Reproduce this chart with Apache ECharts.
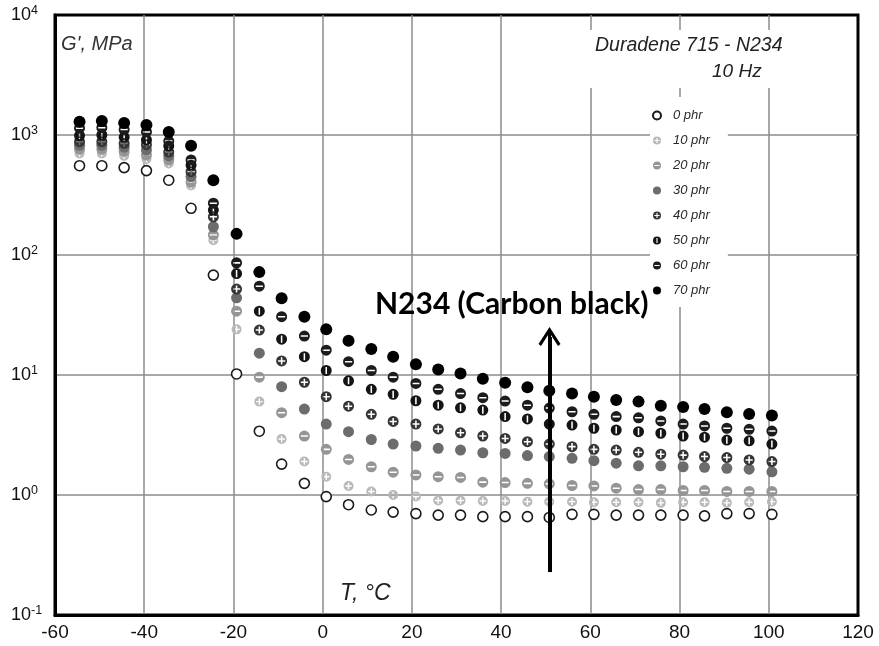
<!DOCTYPE html>
<html>
<head>
<meta charset="utf-8">
<script src="https://cdn.jsdelivr.net/npm/echarts@6/dist/echarts.min.js"></script>
<style>
  html, body { margin: 0; padding: 0; background: #fff; }
  #chart { width: 879px; height: 646px; }
</style>
</head>
<body>
<div id="chart"></div>
<script>
// Storage modulus G' (MPa) of Duradene 715 filled with N234 carbon black, 10 Hz
const temperatures = [-54.5, -49.5, -44.5, -39.5, -34.5, -29.5, -24.5, -19.3, -14.2, -9.2, -4.1, 0.8,
  5.8, 10.9, 15.8, 20.9, 25.9, 30.9, 35.9, 40.9, 45.9, 50.8, 55.9, 60.8, 65.8, 70.8, 75.8, 80.8,
  85.6, 90.6, 95.6, 100.7];

const seriesNames = ['0 phr', '10 phr', '20 phr', '30 phr', '40 phr', '50 phr', '60 phr', '70 phr'];

const g0phr = [555, 555, 535, 505, 420, 245, 68, 10.2, 3.4, 1.81, 1.25, 0.97, 0.83, 0.75, 0.72, 0.70,
  0.68, 0.68, 0.66, 0.66, 0.66, 0.65, 0.69, 0.69, 0.68, 0.68, 0.68, 0.68, 0.67, 0.70, 0.70, 0.69];
const g10phr = [700, 700, 670, 630, 580, 380, 133, 24, 6.0, 2.93, 1.9, 1.42, 1.19, 1.07, 1.0, 0.97,
  0.90, 0.90, 0.89, 0.89, 0.88, 0.88, 0.88, 0.87, 0.87, 0.87, 0.86, 0.87, 0.87, 0.86, 0.87, 0.88];
const g20phr = [760, 760, 730, 680, 620, 405, 147, 34, 9.6, 4.85, 3.1, 2.4, 1.98, 1.72, 1.55, 1.47,
  1.42, 1.40, 1.28, 1.27, 1.25, 1.24, 1.20, 1.19, 1.14, 1.11, 1.11, 1.09, 1.09, 1.07, 1.07, 1.07];
const g30phr = [820, 820, 790, 750, 670, 450, 172, 44, 15.2, 8.0, 5.2, 3.9, 3.37, 2.9, 2.66, 2.56,
  2.45, 2.37, 2.25, 2.22, 2.13, 2.09, 2.02, 1.93, 1.84, 1.75, 1.75, 1.72, 1.70, 1.67, 1.64, 1.56];
const g40phr = [880, 880, 850, 830, 720, 495, 208, 52, 23.7, 13.1, 8.7, 6.6, 5.5, 4.7, 4.1, 3.9,
  3.55, 3.3, 3.1, 2.96, 2.78, 2.66, 2.53, 2.4, 2.37, 2.27, 2.19, 2.15, 2.09, 2.05, 1.96, 1.9];
const g50phr = [990, 1000, 960, 910, 810, 560, 237, 70, 34, 19.9, 14.2, 10.9, 8.95, 7.6, 6.9, 6.1,
  5.6, 5.33, 5.1, 4.5, 4.3, 3.9, 3.83, 3.6, 3.48, 3.37, 3.27, 3.1, 3.03, 2.87, 2.83, 2.66];
const g60phr = [1140, 1150, 1110, 1060, 890, 620, 270, 86, 55, 30.6, 21.1, 16.1, 12.9, 10.9, 9.6, 8.5,
  7.6, 7.0, 6.47, 6.07, 5.6, 5.3, 4.94, 4.7, 4.5, 4.4, 4.14, 3.9, 3.76, 3.6, 3.53, 3.41];
const g70phr = [1290, 1310, 1260, 1210, 1060, 815, 420, 150, 72, 43.6, 30.6, 24, 19.3, 16.5, 14.2, 12.3,
  11.1, 10.3, 9.3, 8.6, 7.9, 7.4, 7.0, 6.6, 6.2, 6.0, 5.55, 5.4, 5.2, 4.9, 4.73, 4.6];

const xTicks = [-60, -40, -20, 0, 20, 40, 60, 80, 100, 120];
const yTicks = [0.1, 1, 10, 100, 1000, 10000];

// filler-loading arrow: temperature and G' range it spans
const arrowTemp = 50.85;
const arrowFrom = 0.228;
const arrowTo = 20.7;

const seriesValues = [g0phr, g10phr, g20phr, g30phr, g40phr, g50phr, g60phr, g70phr];

// marker shapes: discs with cut-out bars / crosses (holes use opposite winding)
const DISC = 'M10 0A10 10 0 1 1 10 20A10 10 0 1 1 10 0Z';
const HOLE_V = 'M8.6 3.5L8.6 16.5L11.4 16.5L11.4 3.5Z';
const HOLE_H = 'M3.5 8.6L3.5 11.4L16.5 11.4L16.5 8.6Z';
const HOLE_X = 'M8.6 3.5L8.6 8.6L3.5 8.6L3.5 11.4L8.6 11.4L8.6 16.5L11.4 16.5L11.4 11.4L16.5 11.4L16.5 8.6L11.4 8.6L11.4 3.5Z';
const ARROW_HEAD = 'path://M11 0L22 17L19.5 19L12.5 8L12.5 20L9.5 20L9.5 8L2.5 19L0 17Z';

const markerStyles = [
  { symbol: 'circle', size: 10, color: '#ffffff', border: '#1a1a1a', bw: 1.6 },
  { symbol: 'path://' + DISC + HOLE_X, size: 10, color: '#b9b9b9', border: null, bw: 0 },
  { symbol: 'path://' + DISC + HOLE_H, size: 11, color: '#959595', border: null, bw: 0 },
  { symbol: 'circle', size: 11, color: '#6c6c6c', border: null, bw: 0 },
  { symbol: 'path://' + DISC + HOLE_X, size: 11, color: '#353535', border: null, bw: 0 },
  { symbol: 'path://' + DISC + HOLE_V, size: 11, color: '#141414', border: null, bw: 0 },
  { symbol: 'path://' + DISC + HOLE_H, size: 11, color: '#1c1c1c', border: null, bw: 0 },
  { symbol: 'circle', size: 12, color: '#000000', border: null, bw: 0 }
];

const FONT = '"Liberation Sans", Arial, Helvetica, sans-serif';

const series = seriesNames.map((name, i) => {
  const st = markerStyles[i];
  const s = {
    name: name,
    type: 'scatter',
    data: temperatures.map((t, k) => [t, seriesValues[i][k]]),
    symbol: st.symbol,
    symbolSize: st.size,
    itemStyle: {
      color: st.color,
      borderColor: st.border || st.color,
      borderWidth: st.bw,
      opacity: 1
    },
    emphasis: { disabled: true },
    z: 2 + i * 0.01
  };
  if (i === seriesNames.length - 1) {
    s.markLine = {
      silent: true,
      animation: false,
      symbol: ['none', ARROW_HEAD],
      symbolSize: [22, 20],
      label: { show: false },
      lineStyle: { color: '#000', width: 4, type: 'solid', opacity: 1 },
      emphasis: { disabled: true },
      data: [[{ coord: [arrowTemp, arrowFrom] }, { coord: [arrowTemp, arrowTo] }]]
    };
  }
  return s;
});

const chart = echarts.init(document.getElementById('chart'), null, { renderer: 'canvas' });

chart.setOption({
  animation: false,
  backgroundColor: '#ffffff',
  grid: {
    left: 55, right: 21, top: 15, bottom: 31,
    show: true, borderColor: '#000', borderWidth: 3, backgroundColor: 'transparent'
  },
  xAxis: {
    type: 'value',
    min: xTicks[0],
    max: xTicks[xTicks.length - 1],
    interval: xTicks[1] - xTicks[0],
    axisLine: { show: true, onZero: false, lineStyle: { color: '#000', width: 3 } },
    axisTick: { show: false },
    axisLabel: { fontFamily: FONT, fontSize: 19, color: '#111', margin: 8 },
    splitLine: {
      show: true, showMinLine: false, showMaxLine: false,
      lineStyle: { color: '#8c8c8c', width: 1.5 }
    }
  },
  yAxis: {
    type: 'log',
    logBase: 10,
    min: yTicks[0],
    max: yTicks[yTicks.length - 1],
    interval: 1,
    axisLine: { show: true, onZero: false, lineStyle: { color: '#000', width: 3 } },
    axisTick: { show: false },
    axisLabel: {
      margin: 44,
      align: 'left',
      color: '#111',
      formatter: v => '{b|10}{e|' + Math.round(Math.log10(v)) + '}',
      rich: {
        b: { fontFamily: FONT, fontSize: 18, lineHeight: 22, color: '#111' },
        e: { fontFamily: FONT, fontSize: 12.5, lineHeight: 13, verticalAlign: 'top', color: '#111' }
      }
    },
    splitLine: {
      show: true, showMinLine: false, showMaxLine: false,
      lineStyle: { color: '#8c8c8c', width: 1.5 }
    }
  },
  legend: {
    data: seriesNames,
    orient: 'vertical',
    left: 650,
    top: 97,
    padding: [12, 18, 10, 2],
    backgroundColor: '#ffffff',
    itemWidth: 22,
    itemHeight: 8,
    itemGap: 12,
    selectedMode: false,
    textStyle: { fontFamily: FONT, fontStyle: 'italic', fontSize: 13, lineHeight: 13, color: '#2a2a2a' }
  },
  graphic: [
    { type: 'rect', z: 5, shape: { x: 586, y: 30, width: 214, height: 58 }, style: { fill: '#ffffff' } },
    { type: 'text', z: 6, left: 595, top: 36,
      style: { text: 'Duradene 715 - N234', font: 'italic 19.5px ' + FONT, fill: '#222' } },
    { type: 'text', z: 6, left: 712, top: 62,
      style: { text: '10 Hz', font: 'italic 19px ' + FONT, fill: '#222' } },
    { type: 'text', z: 6, left: 61, top: 34,
      style: { text: "G', MPa", font: 'italic 20px ' + FONT, fill: '#333' } },
    { type: 'text', z: 6, left: 340, top: 582,
      style: { text: 'T, °C', font: 'italic 23px ' + FONT, fill: '#222' } },
    { type: 'text', z: 6, left: 375, top: 289,
      style: { text: 'N234 (Carbon black)', font: 'bold 30px Lato, "Open Sans", sans-serif', fill: '#000' } }
  ],
  series: series
});
</script>
</body>
</html>
